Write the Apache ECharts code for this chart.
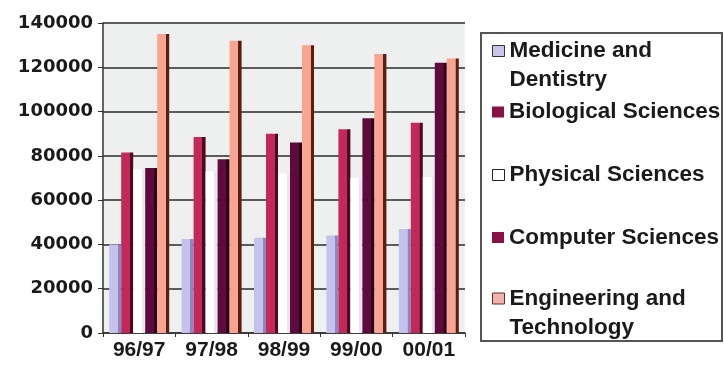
<!DOCTYPE html>
<html>
<head>
<meta charset="utf-8">
<script src="https://cdn.jsdelivr.net/npm/echarts@6/dist/echarts.min.js"></script>
<style>html,body{margin:0;padding:0;background:#fff}#c{width:724px;height:365px}</style>
</head>
<body>
<div id="c"></div>
<script>
const categories = ['96/97', '97/98', '98/99', '99/00', '00/01'];
const medicine = [40000, 42500, 43000, 44000, 47000];
const biological = [81500, 88500, 90000, 92000, 95000];
const physical = [74000, 73000, 72000, 70000, 70500];
const computer = [74500, 78500, 86000, 97000, 122000];
const engineering = [135000, 132000, 130000, 126000, 124000];
const yTicks = [0, 20000, 40000, 60000, 80000, 100000, 120000, 140000];

const chart = echarts.init(document.getElementById('c'));
function grad(c, d) {
  return new echarts.graphic.LinearGradient(0, 0, 1, 0, [
    {offset: 0, color: c}, {offset: 0.72, color: c},
    {offset: 0.74, color: d}, {offset: 1, color: d}
  ]);
}
const seriesDefs = [
  {name: 'Medicine and Dentistry', lines: ['Medicine and', 'Dentistry'], data: medicine, fill: grad('#c6c2ee', '#8c86c0'), icon: {color: '#c8c4ec', borderColor: '#333', borderWidth: 1}, center: 51},
  {name: 'Biological Sciences', lines: ['Biological Sciences'], data: biological, fill: grad('#c42858', '#4a0a22'), icon: {color: '#8a1046'}, center: 112},
  {name: 'Physical Sciences', lines: ['Physical Sciences'], data: physical, fill: grad('#ffffff', '#e8e6f0'), icon: {color: '#ffffff', borderColor: '#222', borderWidth: 1}, center: 175},
  {name: 'Computer Sciences', lines: ['Computer Sciences'], data: computer, fill: grad('#5e0a3c', '#2c0018'), icon: {color: '#8a1046'}, center: 237.5},
  {name: 'Engineering and Technology', lines: ['Engineering and', 'Technology'], data: engineering, fill: grad('#f8a48e', '#5a1c14'), icon: {color: '#f0b4b0', borderColor: '#6a2a20', borderWidth: 1}, center: 298.5}
];
const LH = 29;
const fontBase = {fontFamily: 'Liberation Sans', fontWeight: 'bold', fontSize: 22.5, color: '#1a1a1a', lineHeight: LH};
const legends = seriesDefs.map(s => {
  const two = s.lines.length > 1;
  return {
    orient: 'vertical', left: 492, top: s.center - (two ? 1.5 * LH : 0.5 * LH), padding: 0,
    itemWidth: 12, itemHeight: 11,
    icon: 'rect',
    selectedMode: false,
    data: [{name: s.name, itemStyle: s.icon}],
    // two-line names: an empty first line keeps the icon level with the first visible line
    formatter: () => two ? (' \n' + s.lines[0] + '\n' + s.lines[1]) : s.lines[0],
    textStyle: fontBase
  };
});

chart.setOption({
  animation: false,
  backgroundColor: '#ffffff',
  grid: {left: 103, right: 259, top: 23, bottom: 32, show: true, backgroundColor: '#eef0ef', borderWidth: 0},
  graphic: [{
    type: 'rect', z: -1, silent: true,
    shape: {x: 481, y: 33, width: 241, height: 308},
    style: {fill: '#ffffff', stroke: '#555', lineWidth: 2}
  }],
  legend: legends,
  xAxis: {
    type: 'category', data: categories,
    axisLine: {lineStyle: {color: '#333', width: 1.5}},
    axisTick: {show: true, length: 4, lineStyle: {color: '#333'}},
    axisLabel: {fontFamily: 'Liberation Sans', fontWeight: 'bold', fontSize: 21, color: '#1a1a1a', margin: 7}
  },
  yAxis: {
    type: 'value', min: 0, max: 140000, interval: 20000,
    axisLine: {show: true, lineStyle: {color: '#333', width: 1.5}},
    axisTick: {show: true, length: 5, lineStyle: {color: '#333'}},
    axisLabel: {fontFamily: 'DejaVu Sans', fontWeight: 'bold', fontSize: 18, color: '#1a1a1a', margin: 10,
      customValues: yTicks, formatter: v => String(v)},
    splitLine: {lineStyle: {color: '#2a2a2a', width: 1.5}}
  },
  series: seriesDefs.map(s => ({
    type: 'bar', name: s.name, data: s.data,
    barWidth: 12, barGap: '0%',
    itemStyle: {color: s.fill}
  }))
});
</script>
</body>
</html>
